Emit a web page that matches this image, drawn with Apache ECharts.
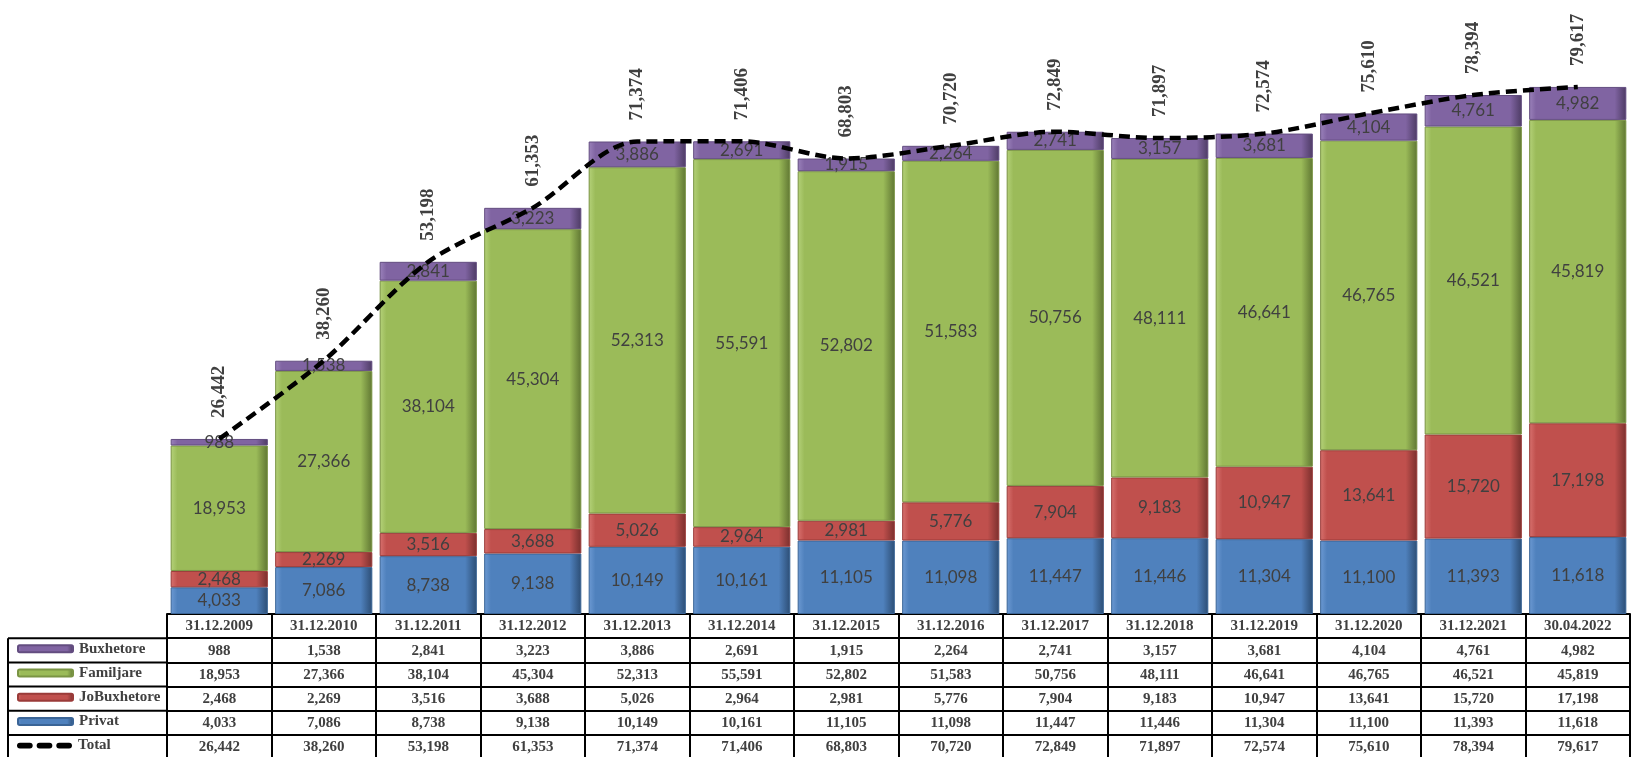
<!DOCTYPE html>
<html>
<head>
<meta charset="utf-8">
<script src="https://cdn.jsdelivr.net/npm/echarts@6/dist/echarts.min.js"></script>
<style>html,body{margin:0;padding:0;background:#fff}#c{width:1631px;height:757px}</style>
</head>
<body>
<div id="c"></div>
<script>
const categories = ['31.12.2009','31.12.2010','31.12.2011','31.12.2012','31.12.2013','31.12.2014','31.12.2015','31.12.2016','31.12.2017','31.12.2018','31.12.2019','31.12.2020','31.12.2021','30.04.2022'];
const buxhetore = [988,1538,2841,3223,3886,2691,1915,2264,2741,3157,3681,4104,4761,4982];
const familjare = [18953,27366,38104,45304,52313,55591,52802,51583,50756,48111,46641,46765,46521,45819];
const joBuxhetore = [2468,2269,3516,3688,5026,2964,2981,5776,7904,9183,10947,13641,15720,17198];
const privat = [4033,7086,8738,9138,10149,10161,11105,11098,11447,11446,11304,11100,11393,11618];
const total = [26442,38260,53198,61353,71374,71406,68803,70720,72849,71897,72574,75610,78394,79617];
const rowNames = ['Buxhetore', 'Familjare', 'JoBuxhetore', 'Privat', 'Total'];

const fmt = v => Number(v).toLocaleString('en-US');

// layout
const W = 1631, H = 757;
const gridLeft = 167, gridRight = 1, tableTop = 614, rowH = 24.2;
const yMax = 90000, pxPer = 0.00662;
const gridTop = tableTop - yMax * pxPer;
const gridBottom = H - tableTop;

function bevel(light, base, dark) {
  return new echarts.graphic.LinearGradient(0, 0, 1, 0, [
    {offset: 0, color: light},
    {offset: 0.07, color: base},
    {offset: 0.88, color: base},
    {offset: 1, color: dark}
  ]);
}
const styles = {
  Privat: {fill: bevel('#6d9ad3', '#4f81bd', '#2c4d74'), border: '#3a6496'},
  JoBuxhetore: {fill: bevel('#d8726f', '#c0504d', '#7a2f2d'), border: '#9a3b39'},
  Familjare: {fill: bevel('#b5d27a', '#9bbb59', '#5f7632'), border: '#7a9444'},
  Buxhetore: {fill: bevel('#9b82bb', '#8064a2', '#4d3b64'), border: '#634d80'}
};

const barLabel = {show: true, position: 'inside', color: '#404040', fontFamily: 'Lato', fontSize: 17, formatter: p => fmt(p.value)};
function barSeries(name, data) {
  return {
    name, type: 'bar', stack: 'all', data, barCategoryGap: '7%',
    itemStyle: {color: styles[name].fill, borderColor: styles[name].border, borderWidth: 1},
    label: barLabel, emphasis: {disabled: true}
  };
}

const tableRows = [categories, buxhetore.map(fmt), familjare.map(fmt), joBuxhetore.map(fmt), privat.map(fmt), total.map(fmt)];
const cellFont = {fontFamily: 'Liberation Serif', fontWeight: 'bold', fontSize: 15, color: '#404040'};
const xAxes = tableRows.map((row, k) => ({
  type: 'category', data: row, position: 'bottom', offset: k * rowH, gridIndex: 0,
  axisLine: {show: true, lineStyle: {color: '#000', width: 2}},
  axisTick: {show: true, interval: 0, length: rowH, lineStyle: {color: '#000', width: 2}},
  axisLabel: Object.assign({interval: 0, margin: 5}, cellFont),
  splitLine: {show: false}
}));

const leftLines = [];
for (let k = 1; k <= 5; k++) {
  const y = tableTop + k * rowH;
  leftLines.push({type: 'line', shape: {x1: 8, y1: y, x2: gridLeft, y2: y}, style: {stroke: '#000', lineWidth: 2}});
}
leftLines.push({type: 'line', shape: {x1: 8, y1: tableTop + rowH, x2: 8, y2: H}, style: {stroke: '#000', lineWidth: 2}});

const dashIcon = 'path://M2,0h10a2,2 0 0 1 0,6h-10a2,2 0 0 1 0,-6z M22,0h10a2,2 0 0 1 0,6h-10a2,2 0 0 1 0,-6z M42,0h10a2,2 0 0 1 0,6h-10a2,2 0 0 1 0,-6z';
const legends = rowNames.map((name, i) => ({
  orient: 'horizontal', left: 17, top: tableTop + (i + 1) * rowH + rowH / 2 - 9, padding: 0,
  itemWidth: 55, itemHeight: 7, itemGap: 0,
  textStyle: Object.assign({padding: [0, 0, 0, 1]}, cellFont),
  data: [name === 'Total' ? {name, icon: dashIcon} : {name}],
  selectedMode: false
}));

const chart = echarts.init(document.getElementById('c'), null, {renderer: 'canvas'});
chart.setOption({
  animation: false,
  backgroundColor: '#fff',
  grid: {left: gridLeft, right: gridRight, top: gridTop, bottom: gridBottom, containLabel: false},
  xAxis: xAxes,
  yAxis: {type: 'value', min: 0, max: yMax, show: false, splitLine: {show: false}},
  legend: legends,
  graphic: leftLines,
  series: [
    barSeries('Privat', privat),
    barSeries('JoBuxhetore', joBuxhetore),
    barSeries('Familjare', familjare),
    barSeries('Buxhetore', buxhetore),
    {
      name: 'Total', type: 'line', data: total, smooth: 0.3, z: 10,
      symbol: 'circle', symbolSize: 0,
      itemStyle: {color: '#000'},
      lineStyle: {color: '#000', width: 4.5, type: [11, 6]},
      label: {show: true, position: 'top', rotate: 90, align: 'left', verticalAlign: 'middle', distance: 21,
        fontFamily: 'Liberation Serif', fontWeight: 'bold', fontSize: 19, color: '#404040', formatter: p => fmt(p.value)},
      emphasis: {disabled: true}
    }
  ]
});
</script>
</body>
</html>
